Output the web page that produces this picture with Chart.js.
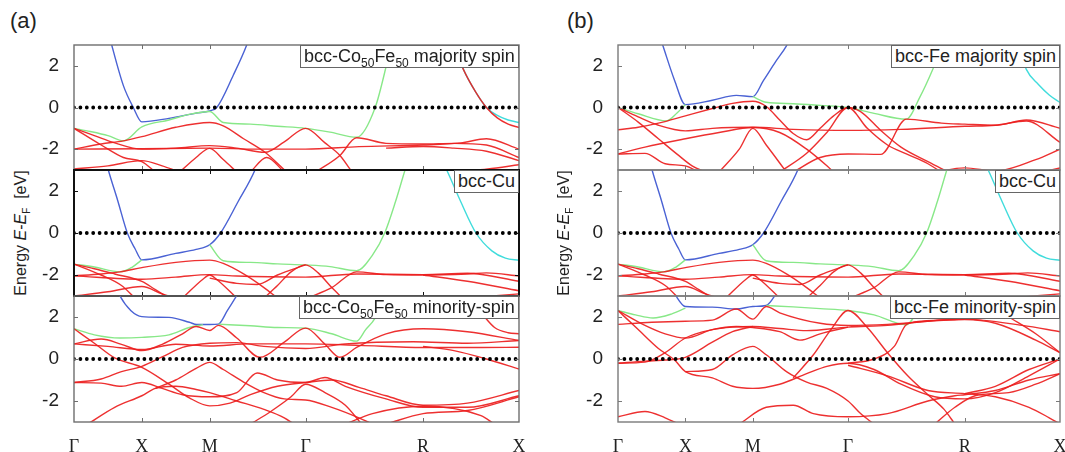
<!DOCTYPE html>
<html>
<head>
<meta charset="utf-8">
<script src="https://cdn.jsdelivr.net/npm/chart.js@4.4.1/dist/chart.umd.min.js"></script>
<style>
  body { margin: 0; background: #fff; }
  #fig { position: relative; width: 1065px; height: 452px; overflow: hidden; font-family: "Liberation Sans", Arial, sans-serif; color: #222; }
  #fig canvas { position: absolute; }
  .tag { position: absolute; font-size: 22px; }
  .ytitle { position: absolute; font-size: 16px; white-space: nowrap; transform-origin: center center; transform: translate(-50%, -50%) rotate(-90deg); }
  .ytitle sub { font-size: 10px; }
  .box { position: absolute; background: #fff; border: 1px solid #666; font-size: 18px; line-height: 21px; padding: 0 3px; white-space: nowrap; }
  .box sub { font-size: 12px; line-height: 0; }
</style>
</head>
<body>
<div id="fig"></div>
<script>
// k-path positions of the high symmetry points and their labels
const kTicks = [0, 0.5, 1.0, 1.707, 2.573, 3.28];
const kLabels = ['Γ', 'X', 'M', 'Γ', 'R', 'X'];
const eTicks = [-2, 0, 2];

// bands are [k, E] pairs

// (a) bcc-Co50Fe50 majority spin
const coMajBlue = [[0.2,5],[0.278,3.0],[0.364,1.05],[0.437,0],[0.5,-0.69],[0.7,-0.52],[0.9,-0.27],[1.0,-0.16],[1.052,0],[1.174,1.55],[1.273,3.0],[1.35,4.5]];
const coMajGreen = [[0,-1.0],[0.12,-1.15],[0.25,-1.35],[0.364,-1.6],[0.5,-0.93],[0.7,-0.6],[0.85,-0.33],[1.0,-0.19],[1.1,-0.72],[1.3,-0.8],[1.5,-0.9],[1.707,-1.0],[1.887,-1.18],[2.083,-1.43],[2.22,0],[2.341,3.0],[2.4,4.2]];
const coMajCyan = [[2.78,3.3],[2.87,1.83],[2.96,0.75],[3.04,0],[3.12,-0.38],[3.2,-0.6],[3.28,-0.72]];
const coMajRed = [
  [[2.78,3.3],[2.87,1.83],[2.96,0.75],[3.04,0],[3.12,-0.5],[3.2,-0.8],[3.28,-0.96]],
  [[0,-1.0],[0.15,-1.35],[0.3,-1.7],[0.5,-2.0],[0.75,-1.95],[1.0,-1.83],[1.2,-1.95],[1.408,-2.15],[1.55,-1.65],[1.707,-1.0],[1.85,-1.7],[1.96,-2.3],[2.05,-3.1]],
  [[0,-1.0],[0.2,-1.8],[0.364,-2.4],[0.5,-2.6],[0.6,-3.1]],
  [[0,-2.0],[0.2,-1.75],[0.364,-1.6],[0.5,-1.4],[0.75,-0.95],[1.0,-0.72],[1.1,-0.88],[1.25,-1.5],[1.408,-2.15],[1.568,-3.1]],
  [[0,-2.0],[0.5,-1.98],[1.0,-1.95],[1.35,-2.0],[1.707,-2.0],[2.1,-1.88],[2.573,-1.8],[2.85,-1.7],[3.04,-1.5],[3.28,-2.0]],
  [[0,-2.95],[0.25,-2.8],[0.5,-2.55],[0.65,-2.8],[0.78,-3.1]],
  [[0.78,-3.1],[0.9,-2.4],[1.0,-1.96],[1.1,-2.5],[1.2,-3.1]],
  [[1.3,-3.1],[1.42,-2.4],[1.55,-3.1]],
  [[1.78,-3.1],[1.96,-2.3],[2.083,-1.45],[2.3,-1.72],[2.573,-1.75],[2.8,-1.72],[3.04,-1.8],[3.28,-2.4]],
  [[2.3,-1.95],[2.573,-1.87],[2.8,-1.95],[3.04,-2.1],[3.28,-2.55]],
  [[2.8,-3.1],[3.05,-2.95],[3.28,-2.75]]
];

// bcc-Cu (same in both panels)
const cuBlue = [[0.2,4.3],[0.253,3.0],[0.322,1.55],[0.393,0],[0.45,-0.75],[0.5,-1.28],[0.75,-0.97],[0.9,-0.78],[1.0,-0.56],[1.08,0],[1.21,1.5],[1.334,3.0],[1.4,4.2]];
const cuGreenA = [[0,-1.48],[0.15,-1.62],[0.339,-1.85],[0.43,-1.62],[0.5,-1.28]];
const cuGreenB = [[1.0,-0.56],[1.1,-1.32],[1.3,-1.4],[1.5,-1.47],[1.707,-1.52],[1.887,-1.6],[2.083,-1.8],[2.2,-1.05],[2.29,0],[2.37,1.5],[2.44,3.0],[2.5,4.2]];
const cuCyan = [[2.7,3.6],[2.747,3.0],[2.85,1.5],[2.963,0],[3.08,-0.85],[3.18,-1.2],[3.28,-1.3]];
const cuRed = [
  [[0,-1.48],[0.15,-1.7],[0.3,-1.95],[0.5,-2.3],[0.6,-2.7],[0.7,-3.1]],
  [[0,-1.48],[0.2,-2.0],[0.35,-2.5],[0.45,-3.1]],
  [[0,-2.04],[0.2,-1.95],[0.339,-1.85],[0.5,-1.65],[0.75,-1.4],[1.0,-1.29],[1.1,-1.45],[1.25,-1.95],[1.4,-2.6],[1.5,-3.1]],
  [[0,-2.04],[0.5,-2.2],[0.75,-2.1],[1.0,-1.98],[1.2,-2.05],[1.707,-2.1],[2.083,-1.95],[2.573,-1.98],[2.9,-1.92],[3.28,-2.3]],
  [[1.4,-3.1],[1.5,-2.5],[1.6,-1.85],[1.707,-1.52],[1.8,-1.9],[1.9,-2.6],[1.98,-3.1]],
  [[1.72,-3.1],[1.9,-2.6],[2.083,-1.85],[2.3,-1.98],[2.573,-2.0],[2.9,-1.95],[3.04,-1.9],[3.28,-2.05]],
  [[0,-3.0],[0.25,-2.8],[0.5,-2.55],[0.65,-2.9],[0.75,-3.1]],
  [[0.8,-3.1],[0.95,-2.2],[1.0,-2.0],[1.05,-2.2],[1.2,-3.1]],
  [[1.0,-2.15],[1.2,-2.4],[1.35,-2.45],[1.5,-2.0],[1.707,-1.52]],
  [[2.573,-2.0],[2.9,-2.3],[3.28,-2.75]],
  [[2.9,-3.1],[3.28,-2.9]]
];

// (a) bcc-Co50Fe50 minority spin
const coMinBlue = [[0.3,3.6],[0.339,3.0],[0.42,2.3],[0.5,2.02],[0.7,1.98],[0.85,1.75],[0.904,1.64],[1.0,1.64],[1.064,1.66],[1.13,2.3],[1.2,3.03],[1.25,3.6]];
const coMinGreenA = [[0,1.44],[0.15,1.15],[0.339,1.0],[0.5,1.03],[0.7,1.15],[0.85,1.5],[0.95,1.64]];
const coMinGreenB = [[1.064,1.66],[1.3,1.58],[1.5,1.5],[1.707,1.47],[1.9,1.2],[2.083,0.85],[2.15,1.4],[2.219,1.95],[2.3,3.2]];
const coMinRed = [
  [[0,1.44],[0.15,0.75],[0.3,0.05],[0.5,-0.4],[0.7,-1.2],[0.85,-1.85],[1.0,-2.23],[1.15,-2.1],[1.3,-1.7],[1.5,-1.3],[1.707,-1.12],[1.9,-1.0],[2.1,-1.35],[2.3,-1.75],[2.573,-2.2],[2.9,-2.1],[3.28,-1.5]],
  [[0,0.72],[0.2,0.95],[0.35,0.7],[0.5,0.4],[0.65,0.7],[0.8,1.2],[0.9,1.55],[1.0,1.36],[1.064,1.6],[1.2,1.0],[1.37,0.08],[1.55,0.8],[1.707,1.47],[1.85,0.7],[1.96,0.08],[2.083,0.55],[2.3,1.2],[2.573,1.44],[2.9,1.3],[3.28,0.88]],
  [[0,0.72],[0.25,0.6],[0.5,0.45],[0.75,0.7],[1.0,0.62],[1.3,0.72],[1.707,0.72],[2.1,0.65],[2.573,0.55],[3.0,0.55],[3.28,0.56]],
  [[0,-1.12],[0.2,-0.95],[0.35,-0.6],[0.5,-0.35],[0.65,0.1],[0.8,0.55],[1.0,0.75],[1.2,0.78],[1.4,0.6],[1.707,0.5],[2.0,0.72],[2.5,0.82],[2.9,0.75],[3.28,0.88]],
  [[0.6,-1.4],[0.75,-1.0],[0.9,-0.45],[1.0,-0.16],[1.1,-0.5],[1.25,-1.1],[1.4,-1.6],[1.55,-1.9],[1.707,-1.95],[1.9,-2.3],[2.1,-2.8],[2.2,-3.1]],
  [[0,-1.12],[0.2,-1.15],[0.35,-1.3],[0.5,-1.12],[0.65,-1.4],[0.8,-1.7],[1.0,-1.8],[1.2,-1.6],[1.35,-0.67],[1.5,-1.0],[1.707,-1.12],[1.85,-0.88],[2.0,-1.3],[2.3,-1.9],[2.573,-2.3],[2.9,-2.3],[3.28,-1.75]],
  [[2.573,0.6],[2.8,0.4],[3.04,0],[3.28,-0.48]],
  [[2.3,-3.1],[2.573,-2.6],[2.9,-2.45],[3.28,-1.8]],
  [[0.1,-3.1],[0.3,-2.3],[0.5,-1.75],[0.6,-1.4],[0.75,-1.3],[0.9,-1.45],[1.0,-1.6],[1.2,-2.0],[1.4,-2.4],[1.55,-2.8],[1.62,-3.1]],
  [[1.3,-3.1],[1.45,-2.5],[1.6,-1.8],[1.707,-1.2],[1.85,-1.6],[2.0,-2.2],[2.12,-3.1]],
  [[2.0,-3.1],[2.2,-2.6],[2.573,-2.25],[3.0,-2.7],[3.1,-3.1]],
  [[3.0,2.2],[3.1,1.5],[3.2,1.25],[3.28,1.2]]
];

// (b) bcc-Fe majority spin
const feMajBlue = [[0.28,4],[0.334,2.95],[0.42,1.3],[0.5,0.14],[0.7,0.35],[0.878,0.58],[1.0,0.52],[1.08,1.3],[1.17,2.2],[1.249,2.95],[1.3,3.6]];
const feMajGreenA = [[0,0],[0.15,-0.3],[0.36,-0.64],[0.44,-0.25],[0.5,0.14]];
const feMajGreenB = [[1.0,0.52],[1.1,0.25],[1.3,0.18],[1.5,0.1],[1.707,0.0],[1.9,-0.28],[2.139,-0.56],[2.24,0.5],[2.337,1.85],[2.42,3.2]];
const feMajCyan = [[2.97,3.0],[3.03,1.83],[3.12,1.1],[3.2,0.6],[3.28,0.24]];
const feMajRed = [
  [[0,0],[0.15,-0.45],[0.3,-0.85],[0.5,-1.12],[0.7,-1.0],[1.0,-0.95],[1.3,-1.05],[1.707,-1.1],[2.1,-1.05],[2.573,-0.9],[2.8,-0.85],[3.03,-0.65],[3.28,-1.67]],
  [[0,0],[0.15,-0.7],[0.3,-1.5],[0.45,-2.3],[0.55,-2.8],[0.65,-3.1]],
  [[0,-1.07],[0.15,-0.95],[0.3,-0.75],[0.5,-0.4],[0.7,-0.05],[0.85,0.2],[1.0,0.3],[1.1,0.05],[1.2,-0.6],[1.3,-1.25],[1.4,-1.55],[1.5,-1.0],[1.6,-0.4],[1.707,0],[1.8,-0.2],[1.95,-1.1],[2.1,-1.9],[2.3,-2.6],[2.45,-3.1]],
  [[0,-2.23],[0.2,-1.9],[0.5,-1.5],[0.75,-1.2],[1.0,-0.96],[1.2,-1.2],[1.4,-2.0],[1.55,-2.8],[1.6,-3.1]],
  [[0,-2.23],[0.2,-2.2],[0.35,-2.7],[0.5,-2.8],[0.6,-3.1]],
  [[0.75,-3.1],[0.9,-2.0],[1.0,-1.0],[1.1,-1.8],[1.25,-3.1]],
  [[1.2,-3.1],[1.4,-2.2],[1.55,-1.2],[1.707,0],[1.85,-1.0],[2.0,-1.8],[2.14,-2.23],[2.3,-2.7],[2.4,-3.1]],
  [[1.3,-3.1],[1.5,-2.4],[1.707,-2.23],[1.95,-2.25],[2.14,-0.56],[2.4,-0.75],[2.573,-0.8],[2.8,-0.85],[3.03,-0.6],[3.28,-1.0]],
  [[2.35,-3.1],[2.573,-2.9],[2.8,-3.05],[3.1,-2.5],[3.28,-2.0]],
  [[3.15,-3.1],[3.28,-2.9]]
];

// (b) bcc-Fe minority spin
const feMinBlue = [[0.4,3.4],[0.433,2.98],[0.5,2.5],[0.7,2.47],[0.878,2.38],[1.0,2.5],[1.1,2.55],[1.16,2.98],[1.2,3.5]];
const feMinGreenA = [[0,2.31],[0.13,2.1],[0.26,1.95],[0.4,2.15],[0.5,2.42]];
const feMinGreenB = [[1.1,2.55],[1.3,2.48],[1.5,2.4],[1.707,2.31],[1.9,2.1],[2.139,1.63],[2.25,2.6],[2.35,3.5]];
const feMinRed = [
  [[0,2.31],[0.2,1.6],[0.35,1.2],[0.5,1.0],[0.7,1.4],[0.85,1.52],[1.0,1.55],[1.2,1.45],[1.4,1.35],[1.707,1.52],[2.0,1.6],[2.3,1.8],[2.573,1.88],[2.8,1.7],[3.1,0.9],[3.28,0.3]],
  [[0,2.31],[0.15,1.4],[0.3,0.5],[0.42,-0.05],[0.5,-0.6],[0.7,-0.9],[0.85,-1.3],[1.0,-1.4],[1.2,-1.2],[1.4,-0.7],[1.55,-0.35],[1.707,-0.2],[1.9,-0.5],[2.1,-1.2],[2.35,-1.8],[2.573,-1.9],[2.8,-1.6],[3.05,-0.8],[3.28,0]],
  [[0,1.65],[0.25,1.75],[0.5,1.8],[0.7,1.85],[0.878,2.38],[1.0,1.9],[1.1,2.5],[1.2,2.2],[1.5,1.7],[1.707,1.6],[2.0,1.65],[2.573,1.9],[3.0,1.6],[3.28,1.3]],
  [[0,-0.2],[0.2,-0.15],[0.35,0.3],[0.5,1.0],[0.7,1.4],[0.878,1.55],[1.0,1.5],[1.2,1.3],[1.35,0.9],[1.5,1.2],[1.707,1.52]],
  [[0.5,-0.6],[0.7,-0.5],[0.85,0.2],[1.0,0.6],[1.1,0.2],[1.25,-0.6],[1.4,-1.1],[1.55,-1.4],[1.707,-2.0],[1.8,-2.6],[1.9,-3.1]],
  [[0,-0.2],[0.2,-0.1],[0.35,-0.05],[0.5,0.08],[0.7,0.8],[0.85,1.3],[1.0,1.55]],
  [[0,-2.75],[0.2,-2.5],[0.35,-2.8],[0.45,-3.1]],
  [[0.9,-3.1],[1.1,-2.3],[1.3,-2.2],[1.45,-2.6],[1.707,-2.75],[2.0,-2.6],[2.3,-2.0],[2.5,-1.75],[2.573,-1.7],[2.8,-1.5],[3.05,-1.0],[3.28,-0.7]],
  [[1.3,-0.9],[1.45,0.2],[1.58,1.4],[1.707,2.31],[1.85,1.5],[2.0,0.3],[2.15,-0.8],[2.3,-1.7],[2.42,-2.4],[2.5,-3.1]],
  [[1.707,-0.2],[1.9,0.0],[2.05,0.6],[2.139,1.63],[2.25,1.8],[2.573,1.9]],
  [[1.707,-0.3],[2.0,-0.8],[2.3,-1.5],[2.573,-1.65],[2.8,-1.8],[3.05,-2.3],[3.2,-2.8],[3.28,-3.1]],
  [[2.35,-3.1],[2.5,-2.3],[2.65,-1.75],[2.9,-1.6],[3.1,-1.2],[3.28,-0.7]],
  [[2.573,-1.65],[2.8,-1.3],[3.05,-0.5],[3.28,0]],
  [[2.9,2.0],[3.1,1.2],[3.28,0.3]]
];

const RED = 'rgba(236,30,30,0.92)';
const BLUE = '#4a62d4';
const GREEN = '#88e888';
const CYAN = '#40dcdc';

const panels = [
  { tag: '(a)', tagX: 10, left: 74, right: 519, titleX: 22, frame: '#6e6e6e', subs: [
    { box: 'bcc-Co<sub>50</sub>Fe<sub>50</sub> majority spin', red: coMajRed, blue: [coMajBlue], green: [coMajGreen], cyan: [coMajCyan] },
    { box: 'bcc-Cu', red: cuRed, blue: [cuBlue], green: [cuGreenA, cuGreenB], cyan: [cuCyan], frame: '#111', frameW: 2 },
    { box: 'bcc-Co<sub>50</sub>Fe<sub>50</sub> minority-spin', red: coMinRed, blue: [coMinBlue], green: [coMinGreenA, coMinGreenB], cyan: [] }
  ]},
  { tag: '(b)', tagX: 567, left: 618, right: 1060, titleX: 565, frame: '#7a7a7a', subs: [
    { box: 'bcc-Fe majority spin', red: feMajRed, blue: [feMajBlue], green: [feMajGreenA, feMajGreenB], cyan: [feMajCyan] },
    { box: 'bcc-Cu', red: cuRed, blue: [cuBlue], green: [cuGreenA, cuGreenB], cyan: [cuCyan] },
    { box: 'bcc-Fe minority-spin', red: feMinRed, blue: [feMinBlue], green: [feMinGreenA, feMinGreenB], cyan: [] }
  ]}
];
const subTops = [45, 170, 296, 422];

const framePlugin = {
  id: 'frame',
  afterDatasetsDraw(chart, args, opts) {
    const { ctx, chartArea: a, scales: { x, y } } = chart;
    ctx.save();
    ctx.strokeStyle = opts.color;
    ctx.lineWidth = 1;
    ctx.beginPath();
    kTicks.slice(1, -1).forEach(k => {
      const px = Math.round(x.getPixelForValue(k)) + 0.5;
      ctx.moveTo(px, a.top); ctx.lineTo(px, a.top + 4);
      ctx.moveTo(px, a.bottom); ctx.lineTo(px, a.bottom - 4);
    });
    eTicks.forEach(v => {
      const py = Math.round(y.getPixelForValue(v)) + 0.5;
      ctx.moveTo(a.left, py); ctx.lineTo(a.left + 4, py);
      ctx.moveTo(a.right, py); ctx.lineTo(a.right - 4, py);
    });
    ctx.stroke();
    ctx.lineWidth = opts.width;
    ctx.strokeRect(a.left, a.top, a.right - a.left, a.bottom - a.top);
    ctx.restore();
  }
};

function toPts(band) { return band.map(p => ({ x: p[0], y: p[1] })); }

const fig = document.getElementById('fig');

function addDiv(cls, html, style) {
  const d = document.createElement('div');
  d.className = cls;
  d.innerHTML = html;
  Object.assign(d.style, style);
  fig.appendChild(d);
  return d;
}

panels.forEach(p => {
  addDiv('tag', p.tag, { left: p.tagX + 'px', top: '8px' });
  addDiv('ytitle', 'Energy <i>E</i>-<i>E</i><sub>F</sub>&nbsp; [eV]', { left: p.titleX + 'px', top: '233px' });

  p.subs.forEach((s, i) => {
    const isBottom = i === 2;
    const top = subTops[i], h = subTops[i + 1] - top;
    const cv = document.createElement('canvas');
    const W = 50 + (p.right - p.left) + 6;
    const H = 6 + h + (isBottom ? 30 : 6);
    cv.width = W; cv.height = H;
    cv.style.left = (p.left - 50) + 'px';
    cv.style.top = (top - 6) + 'px';
    fig.appendChild(cv);

    const datasets = [{
      data: [{ x: 0, y: 0 }, { x: 3.28, y: 0 }],
      borderColor: '#000', borderWidth: 3.8, borderDash: [0, 6.4], borderCapStyle: 'round', order: 0
    }];
    const add = (list, color) => list.forEach(b => datasets.push({ data: toPts(b), borderColor: color, order: 1 }));
    add(s.red, RED);
    add(s.green, GREEN);
    add(s.cyan, CYAN);
    add(s.blue, BLUE);

    new Chart(cv, {
      type: 'line',
      data: { datasets },
      options: {
        animation: false,
        responsive: false,
        maintainAspectRatio: false,
        events: [],
        layout: { padding: { left: 0, right: 6, top: 6, bottom: isBottom ? 0 : 6 } },
        elements: {
          point: { radius: 0 },
          line: { borderWidth: 1.4, cubicInterpolationMode: 'monotone', fill: false }
        },
        plugins: {
          legend: { display: false },
          tooltip: { enabled: false },
          frame: { color: s.frame || p.frame, width: s.frameW || 1.4 }
        },
        scales: {
          x: {
            type: 'linear', min: 0, max: 3.28, display: isBottom,
            afterBuildTicks: sc => { sc.ticks = kTicks.map(v => ({ value: v })); },
            afterFit: sc => {
              sc.height = isBottom ? 30 : 0;
              sc.paddingLeft = 0; sc.paddingRight = 0;
            },
            grid: { display: false }, border: { display: false },
            ticks: {
              autoSkip: false, maxRotation: 0, padding: 6, color: '#222',
              font: { family: 'Liberation Serif', size: 18 },
              callback: (v, idx) => kLabels[idx]
            }
          },
          y: {
            type: 'linear', min: -3, max: 3,
            afterBuildTicks: sc => { sc.ticks = eTicks.map(v => ({ value: v })); },
            afterFit: sc => {
              sc.width = 50;
              sc.paddingTop = 0; sc.paddingBottom = 0;
            },
            grid: { display: false }, border: { display: false },
            ticks: {
              padding: 7, color: '#222',
              font: { family: 'Liberation Sans', size: 19 },
              callback: v => String(v)
            }
          }
        }
      },
      plugins: [framePlugin]
    });

    const box = addDiv('box', s.box, { top: top + 'px' });
    box.style.left = (p.right - box.offsetWidth) + 'px';
  });
});
</script>
</body>
</html>
